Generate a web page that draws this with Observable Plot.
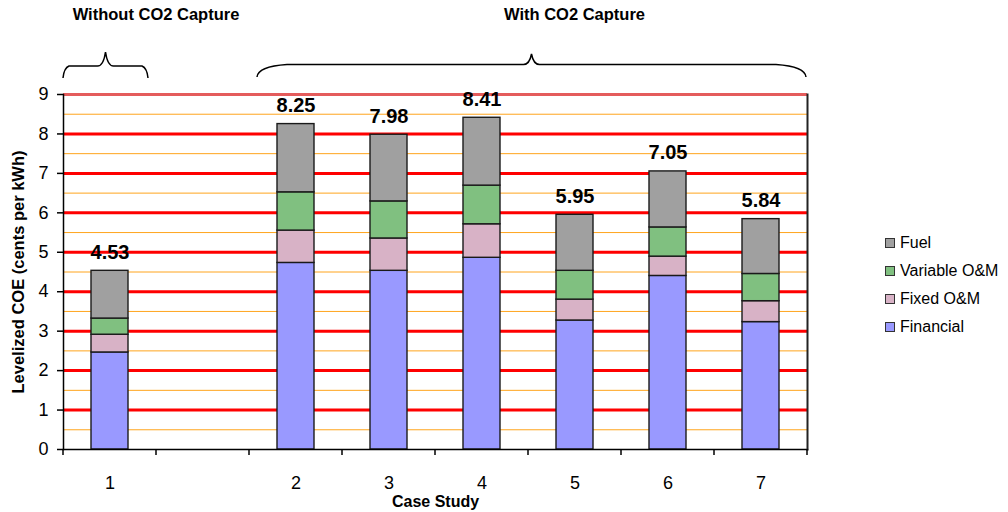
<!DOCTYPE html>
<html><head><meta charset="utf-8">
<script src="https://cdn.jsdelivr.net/npm/d3@7"></script>
<script src="https://cdn.jsdelivr.net/npm/@observablehq/plot@0.6"></script>
<style>
body{margin:0;background:#fff;font-family:"Liberation Sans",Arial,sans-serif;}
#wrap{position:relative;width:1008px;height:512px;}
#legend{position:absolute;left:885px;top:229px;}
.row{display:flex;align-items:center;height:28px;font-size:16px;color:#000;}
.sw{width:8px;height:8px;border:1px solid #333;margin-right:5px;}
</style></head><body><div id="wrap"></div>
<script>
// ---- data ----
const cases = ["1", "2", "3", "4", "5", "6", "7"];
const xDomain = ["1", "", "2", "3", "4", "5", "6", "7"];
const series = ["Financial", "Fixed O&M", "Variable O&M", "Fuel"];
const colors = ["#9999ff", "#d8b2c6", "#80c080", "#a0a0a0"];
const financial  = [2.46, 4.73, 4.53, 4.86, 3.27, 4.40, 3.23];
const fixedOM    = [0.45, 0.82, 0.82, 0.85, 0.53, 0.49, 0.53];
const variableOM = [0.41, 0.97, 0.94, 0.98, 0.73, 0.74, 0.69];
const fuel       = [1.21, 1.73, 1.69, 1.72, 1.42, 1.42, 1.39];
const totalLabels = ["4.53", "8.25", "7.98", "8.41", "5.95", "7.05", "5.84"];
const yTicks = [0, 1, 2, 3, 4, 5, 6, 7, 8, 9];
const majorGrid = [1, 2, 3, 4, 5, 6, 7, 8];
const topGrid = [9];
const minorGrid = [0.5, 1.5, 2.5, 3.5, 4.5, 5.5, 6.5, 7.5, 8.5];
const groupTitles = ["Without CO2 Capture", "With CO2 Capture"];
const yTitle = "Levelized COE (cents per kWh)";
const xTitle = "Case Study";

// ---- tidy table ----
const seriesValues = [financial, fixedOM, variableOM, fuel];
const rows = [];
cases.forEach((c, i) => seriesValues.forEach((arr, j) => rows.push({case: c, series: series[j], value: arr[i]})));
const totals = cases.map((c, i) => ({case: c, total: financial[i] + fixedOM[i] + variableOM[i] + fuel[i], label: totalLabels[i]}));

const FONT = '"Liberation Sans", Arial, sans-serif';

const chart = Plot.plot({
  width: 1008, height: 512,
  marginTop: 94, marginRight: 201, marginBottom: 63, marginLeft: 63,
  style: {fontFamily: FONT, fontSize: "18px", color: "#000", background: "#fff", overflow: "visible"},
  x: {type: "band", domain: xDomain, paddingInner: 0.6, paddingOuter: 0.3},
  y: {domain: [0, 9]},
  color: {domain: series, range: colors},
  marks: [
    Plot.ruleY(minorGrid, {stroke: "#ffa41c", strokeWidth: 1}),
    Plot.ruleY(majorGrid, {stroke: "#ff0000", strokeWidth: 3}),
    Plot.ruleY(topGrid, {stroke: "#e45c5c", strokeWidth: 3}),
    Plot.barY(rows, {x: "case", y: "value", fill: "series", stroke: "#1a1a1a", strokeWidth: 1.4}),
    Plot.text(totals, {x: "case", y: "total", text: "label", dy: -12, lineAnchor: "bottom", fontWeight: "bold", fontSize: 20}),
    Plot.axisY({ticks: yTicks, tickSize: 6, tickPadding: 9, fontSize: 18, label: null, strokeWidth: 1.5}),
    Plot.axisX({ticks: cases, tickSize: 0, tickPadding: 27, fontSize: 18, label: null}),
    Plot.frame({anchor: "left", stroke: "#000", strokeWidth: 1.5}),
    Plot.frame({anchor: "bottom", stroke: "#000", strokeWidth: 1.5}),
    Plot.frame({anchor: "right", stroke: "#222", strokeWidth: 2}),
    Plot.text([yTitle], {text: d => d, frameAnchor: "left", textAnchor: "middle", rotate: -90, dx: -45, fontWeight: "bold", fontSize: 16.5, lineAnchor: "middle"}),
    Plot.text([xTitle], {text: d => d, frameAnchor: "bottom", dy: 52, fontWeight: "bold", fontSize: 16, lineAnchor: "middle"})
  ]
});

// ---- category boundary ticks, braces and group titles from the x scale ----
const xs = chart.scale("x");
const ys = chart.scale("y");
const step = xs.step, bw = xs.bandwidth;
const bounds = xDomain.map(d => xs.apply(d) + bw / 2 - step / 2);
bounds.push(xs.apply(xDomain[xDomain.length - 1]) + bw / 2 + step / 2);
const y0 = ys.apply(0);
const svg = d3.select(chart);
const g = svg.append("g");
g.selectAll("line").data(bounds).join("line")
  .attr("x1", d => d).attr("x2", d => d).attr("y1", y0).attr("y2", y0 + 6)
  .attr("stroke", "#000").attr("stroke-width", 1.5);

function brace(x0, x1, yEnd, yBar, yTip, curve) {
  const xm = (x0 + x1) / 2;
  return `M${x0},${yEnd} Q${x0 + 1},${yBar + 2} ${x0 + curve},${yBar} L${xm - 8},${yBar} Q${xm - 2},${yBar} ${xm},${yTip} Q${xm + 2},${yBar} ${xm + 8},${yBar} L${x1 - curve},${yBar} Q${x1 - 1},${yBar + 2} ${x1},${yEnd}`;
}
const plotTop = ys.apply(9);
g.append("path").attr("d", brace(bounds[0], bounds[1] - 8, plotTop - 16, plotTop - 28, plotTop - 42, 6))
  .attr("fill", "none").attr("stroke", "#000").attr("stroke-width", 1.5);
g.append("path").attr("d", brace(bounds[2] + 8, bounds[8] - 1, plotTop - 17, plotTop - 29.5, plotTop - 40, 30))
  .attr("fill", "none").attr("stroke", "#000").attr("stroke-width", 1.5);

const titleX = [bounds[1], xs.apply("5") + bw / 2];
g.selectAll("text.gt").data(groupTitles).join("text").attr("class", "gt")
  .attr("x", (d, i) => titleX[i]).attr("y", 20).attr("text-anchor", "middle")
  .attr("font-weight", "bold").attr("font-size", 16.5).attr("font-family", FONT).attr("fill", "#000")
  .text(d => d);

const wrap = document.getElementById("wrap");
wrap.appendChild(chart);

// ---- legend ----
const legend = document.createElement("div");
legend.id = "legend";
series.slice().reverse().forEach(s => {
  const row = document.createElement("div"); row.className = "row";
  const sw = document.createElement("div"); sw.className = "sw";
  sw.style.background = colors[series.indexOf(s)];
  const t = document.createElement("span"); t.textContent = s;
  row.appendChild(sw); row.appendChild(t); legend.appendChild(row);
});
wrap.appendChild(legend);
</script>
</body></html>
